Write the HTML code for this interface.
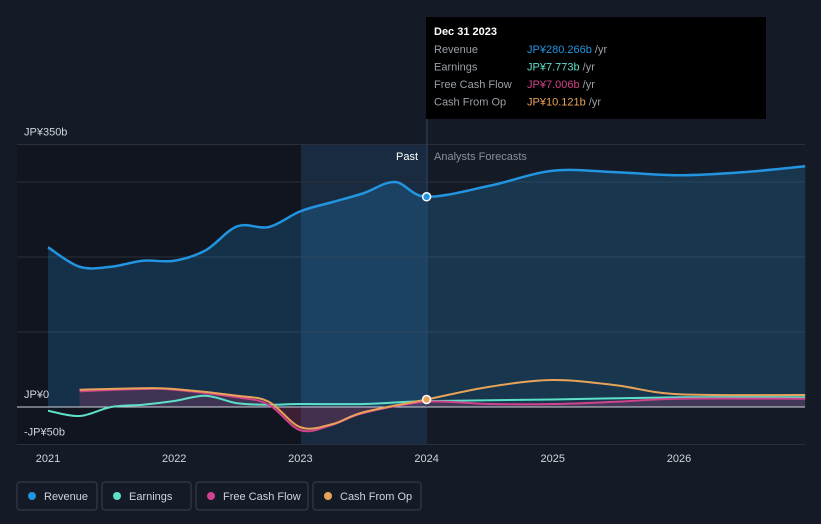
<!DOCTYPE html>
<html><head><meta charset="utf-8"><style>
body{margin:0;background:#151b26;font-family:"Liberation Sans",sans-serif;}
svg{display:block}
</style></head><body>
<svg id="c" width="821" height="524">
<rect width="821" height="524" fill="#151b26"/>
</svg>
<script>
const years=[2021,2021.25,2021.5,2021.75,2022,2022.25,2022.5,2022.75,2023,2023.25,2023.5,2023.75,2024,2024.5,2025,2025.5,2026,2026.5,2027];
const revenue=[213,187,187,195,195,209,241,240,261,273,285,300,280.3,295,315,313,309,313,321];
const earnYears=[2021,2021.25,2021.5,2021.75,2022,2022.25,2022.5,2022.75,2023,2023.5,2024,2025,2026,2027];
const earnings=[-5,-12,0,3,8,15,5,3,4,4,7.8,10,13,13];
const cfYears=[2021.25,2021.75,2022,2022.5,2022.75,2023,2023.25,2023.5,2024,2024.5,2025,2025.5,2026,2027];
const fcf=[21,24,23,13,3,-31,-24,-8,7,4,4,7,11,11];
const cfo=[23,25,24,15,7,-27,-23,-7,10,27,36,29,17,16];
const yTicks=[350,0,-50];
const yTickLabels=["JP¥350b","JP¥0","-JP¥50b"];
const xTicks=[2021,2022,2023,2024,2025,2026];
const NS="http://www.w3.org/2000/svg";
const svg=document.getElementById('c');
const X=y=>48+(y-2021)*126.2;
const Y=v=>407-v*0.75;
function el(t,a,p){const e=document.createElementNS(NS,t);for(const k in a)e.setAttribute(k,a[k]);(p||svg).appendChild(e);return e;}
function smooth(xs,vs){const pts=xs.map((x,i)=>[X(x),Y(vs[i])]);let d="M"+pts[0];for(let i=1;i<pts.length;i++){const p0=pts[i-2]||pts[i-1],p1=pts[i-1],p2=pts[i],p3=pts[i+1]||p2;const c1=[p1[0]+(p2[0]-p0[0])/6,p1[1]+(p2[1]-p0[1])/6],c2=[p2[0]-(p3[0]-p1[0])/6,p2[1]-(p3[1]-p1[1])/6];d+="C"+c1+" "+c2+" "+p2;}return d;}
// regions
let r=el('rect',{x:17,y:145,width:284,height:299,fill:'#10151f'});

r=el('rect',{x:301,y:145,width:126,height:299,fill:'#1a3048',opacity:0.8});

// grid
[350,300,200,100].forEach(v=>{const g=el('line',{x1:17,x2:805,y1:Y(v),y2:Y(v),stroke:'#2a303b','stroke-width':1});});
let b=el('line',{x1:17,x2:805,y1:Y(-50),y2:Y(-50),stroke:'#2a303b'});
// revenue area
const rd=smooth(years,revenue);
let a=el('path',{d:rd+`L${X(2027)},${Y(0)}L${X(2021)},${Y(0)}Z`,fill:'#2394df',opacity:0.22});

// cf areas
a=el('path',{d:smooth(cfYears,fcf)+`L${X(2027)},${Y(0)}L${X(2021.25)},${Y(0)}Z`,fill:'#c44078',opacity:0.25});

let z=el('line',{x1:17,x2:805,y1:Y(0),y2:Y(0),stroke:'#d0d4da','stroke-width':1});

let l=el('path',{d:smooth(earnYears,earnings),fill:'none',stroke:'#5ee0c8','stroke-width':2});

l=el('path',{d:smooth(cfYears,fcf),fill:'none',stroke:'#d0428a','stroke-width':2});

l=el('path',{d:smooth(cfYears,cfo),fill:'none',stroke:'#e8a35a','stroke-width':2});

l=el('path',{d:rd,fill:'none',stroke:'#2394df','stroke-width':2.5});

let v=el('line',{x1:427,x2:427,y1:17,y2:407,stroke:'#2a4a6a','stroke-width':1});

let d=el('circle',{cx:X(2024),cy:Y(280.3),r:4,fill:'#2394df',stroke:'#fff','stroke-width':1.5});

d=el('circle',{cx:X(2024),cy:Y(10),r:4,fill:'#e8a35a',stroke:'#fff','stroke-width':1.5});

// axis labels
yTicks.forEach((t,i)=>{const e=el('text',{x:24,y:Y(t)-9+(t<0?0:0),fill:'#d0d4da','font-size':11});e.textContent=yTickLabels[i];});
xTicks.forEach(t=>{const e=el('text',{x:X(t),y:462,fill:'#d0d4da','font-size':11,'text-anchor':'middle'});e.textContent=t;});
let t=el('text',{x:418,y:160,fill:'#ffffff','font-size':11,'text-anchor':'end'});t.textContent='Past';
t=el('text',{x:434,y:160,fill:'#8a909a','font-size':11});t.textContent='Analysts Forecasts';
// tooltip
const tg=el('g',{});
el('rect',{x:426,y:17,width:340,height:102,fill:'#000000'},tg);
t=el('text',{x:434,y:35,fill:'#fff','font-size':11,'font-weight':'bold'},tg);t.textContent='Dec 31 2023';
const rows=[["Revenue","JP¥280.266b","#2394df"],["Earnings","JP¥7.773b","#5ee0c8"],["Free Cash Flow","JP¥7.006b","#d0428a"],["Cash From Op","JP¥10.121b","#e8a35a"]];
rows.forEach((rw,i)=>{const yy=53+i*17.5;let a=el('text',{x:434,y:yy,fill:'#9aa0a8','font-size':11},tg);a.textContent=rw[0];
const tx=el('text',{x:527,y:yy,fill:rw[2],'font-size':11},tg);tx.textContent=rw[1];const s=el('tspan',{fill:'#9aa0a8'},tx);s.textContent=' /yr';});
// legend
const leg=[["Revenue","#2394df",17,80],["Earnings","#5ee0c8",102,89],["Free Cash Flow","#d0428a",196,112],["Cash From Op","#e8a35a",313,108]];
leg.forEach(g=>{const gg=el('g',{});
el('rect',{x:g[2],y:482,width:g[3],height:28,rx:3,fill:'none',stroke:'#3a404b'},gg);
el('circle',{cx:g[2]+15,cy:496,r:4,fill:g[1]},gg);
const tt=el('text',{x:g[2]+27,y:500,fill:'#d0d4da','font-size':11},gg);tt.textContent=g[0];});
</script>
</body></html>
